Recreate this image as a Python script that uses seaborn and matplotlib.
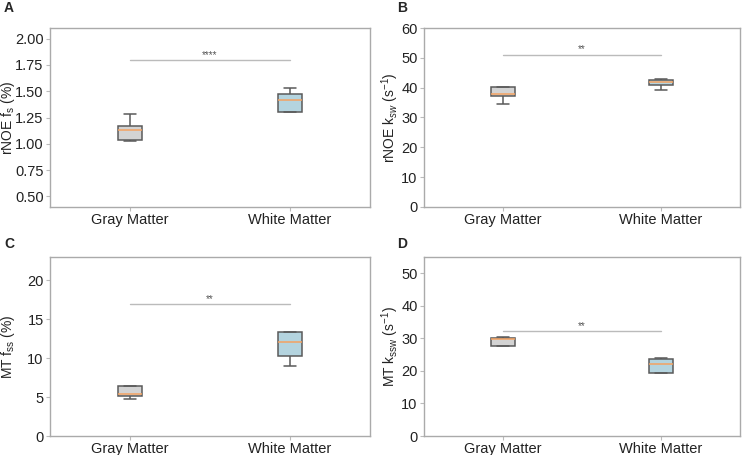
import matplotlib
matplotlib.use("Agg")
import matplotlib.pyplot as plt
import seaborn as sns
import pandas as pd

sns.set_style("white")
plt.rcParams['font.family'] = ['Liberation Sans', 'DejaVu Sans']
plt.rcParams['mathtext.fontset'] = 'custom'
plt.rcParams['mathtext.rm'] = 'Liberation Sans'
plt.rcParams['mathtext.it'] = 'Liberation Sans:italic'
plt.rcParams['mathtext.bf'] = 'Liberation Sans:bold'

groups = ["Gray Matter", "White Matter"]

# five-number style samples per group (min, q1, median, q3, max)
rnoe_fs_gray = [1.03, 1.034, 1.136, 1.174, 1.285]
rnoe_fs_white = [1.30, 1.301, 1.412, 1.476, 1.527]
rnoe_ksw_gray = [34.4, 37.1, 37.8, 40.15, 40.2]
rnoe_ksw_white = [39.25, 40.93, 41.94, 42.73, 42.8]
mt_fss_gray = [4.70, 5.13, 5.43, 6.38, 6.40]
mt_fss_white = [8.97, 10.22, 12.07, 13.36, 13.40]
mt_kssw_gray = [27.6, 27.63, 29.8, 30.0, 30.31]
mt_kssw_white = [19.45, 19.5, 22.06, 23.6, 24.12]

sig_levels = [1.80, 51.1, 17.0, 32.3]
sig_labels = ["****", "**", "**", "**"]
ylims = [(0.4, 2.1), (0, 60), (0, 23), (0, 55)]
yticks = [[0.5, 0.75, 1.0, 1.25, 1.5, 1.75, 2.0], [0, 10, 20, 30, 40, 50, 60],
          [0, 5, 10, 15, 20], [0, 10, 20, 30, 40, 50]]
ylabels = ["rNOE f$_\\mathrm{s}$ (%)", "rNOE k$_{\\mathit{sw}}$ (s$^\\mathrm{-1}$)",
           "MT f$_\\mathrm{ss}$ (%)", "MT k$_\\mathrm{ssw}$ (s$^\\mathrm{-1}$)"]
panel_letters = ["A", "B", "C", "D"]
tick_fmt = ["{:.2f}", "{:.0f}", "{:.0f}", "{:.0f}"]

datasets = [(rnoe_fs_gray, rnoe_fs_white), (rnoe_ksw_gray, rnoe_ksw_white),
            (mt_fss_gray, mt_fss_white), (mt_kssw_gray, mt_kssw_white)]

fig = plt.figure(figsize=(7.47, 4.55), dpi=100)
W, H = 747, 455
rects = [(50, 28, 320, 179), (424, 28, 316, 179), (50, 257, 320, 179), (424, 257, 316, 179)]
label_right = [17, 401, 17, 401]
letter_pos = [(4, 8), (397, 8), (4, 244), (397, 244)]

palette = {"Gray Matter": "#d3d3d3", "White Matter": "#add8e6"}

for i, (g, w) in enumerate(datasets):
    x0, y0, ww, hh = rects[i]
    ax = fig.add_axes([x0 / W, 1 - (y0 + hh) / H, ww / W, hh / H])
    df = pd.DataFrame({"group": [groups[0]] * len(g) + [groups[1]] * len(w),
                       "value": list(g) + list(w)})
    sns.boxplot(data=df, x="group", y="value", hue="group", palette=palette,
                order=groups, width=0.15, whis=1.5, showfliers=False, ax=ax,
                linecolor="#5a5a5a", linewidth=1.1,
                medianprops=dict(color="#f4a261", linewidth=1.1),
                boxprops=dict(edgecolor="#5a5a5a"), legend=False)
    ax.set_xlim(-0.5, 1.5)
    ax.set_ylim(*ylims[i])
    ax.set_yticks(yticks[i])
    ax.set_yticklabels([tick_fmt[i].format(v) for v in yticks[i]])
    ax.set_xlabel("")
    ax.set_ylabel(ylabels[i], fontsize=10, color="#222222")
    ax.yaxis.set_label_coords((label_right[i] - x0) / ww, 0.5)
    ax.tick_params(axis="both", labelsize=10.5, length=3, pad=1.5, color="#bbbbbb",
                   labelcolor="#222222", bottom=True, left=True)
    for s in ax.spines.values():
        s.set_color("#aaaaaa")
        s.set_linewidth(1.0)
    ax.plot([0, 1], [sig_levels[i], sig_levels[i]], color="#bbbbbb", lw=1.0)
    ax.text(0.5, sig_levels[i], sig_labels[i], ha="center", va="bottom",
            fontsize=7, color="#555555")
    fig.text(letter_pos[i][0] / W, 1 - letter_pos[i][1] / H, panel_letters[i],
             fontsize=10, fontweight="bold", va="center", ha="left")

fig.savefig("out.png", dpi=100)
